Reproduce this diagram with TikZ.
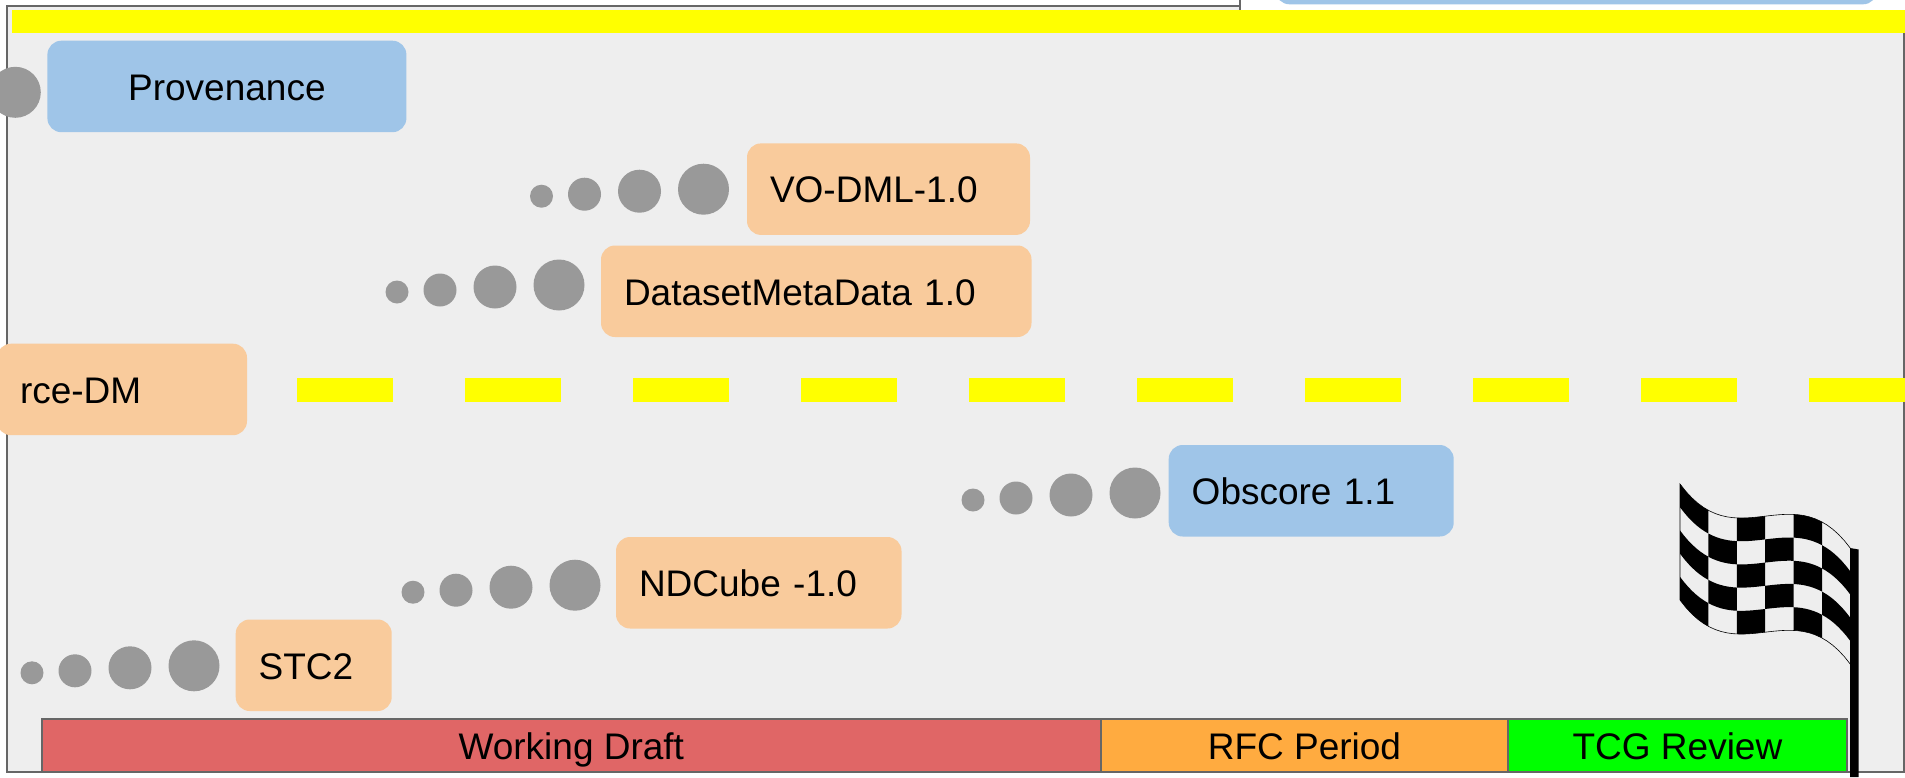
\documentclass[tikz,border=0pt]{standalone}
\usepackage{fontspec}
\setmainfont{Liberation Sans}
\usepackage{tikz}
\usetikzlibrary{positioning}
\definecolor{framegrey}{HTML}{666666}
\definecolor{lanegrey}{HTML}{EEEEEE}
\definecolor{dotgrey}{HTML}{999999}
\definecolor{doneblue}{HTML}{9FC5E8}
\definecolor{workpeach}{HTML}{F9CB9C}
\definecolor{draftred}{HTML}{E06666}
\definecolor{rfcorange}{HTML}{FFAB40}
\definecolor{roadyellow}{HTML}{FFFF00}
\definecolor{tcggreen}{HTML}{00FF00}
\tikzstyle{model} = [rectangle, rounded corners=14pt, anchor=north west, minimum height=91.5pt, inner xsep=23pt, inner ysep=0pt, outer sep=0pt, text height=27.5pt, text depth=0pt, align=left]
\tikzstyle{stage} = [rectangle, draw=framegrey, line width=2pt, minimum height=53pt, inner sep=0pt, outer sep=0pt, text height=27.5pt, text depth=0pt, align=center]
\tikzstyle{dot} = [circle, fill=dotgrey, inner sep=0pt, outer sep=0pt]
% four dots growing towards a model box, #2/#3 is the centre of the largest
\newcommand{\dottrail}[3]{
  \foreach \dx/\dy/\dsize/\dnum in {-162/7/23/1, -119/5/33/2, -64/2/43/3, 0/0/51/4}
    \node (#1dot\dnum) [dot, minimum size=\dsize pt] at (#2+\dx,#3+\dy) {};
}

\begin{document}
\begin{tikzpicture}[x=1pt, y=-1pt, font=\fontsize{37}{44}\selectfont,
    declare function={flagw(\u)=(96.5+4.68*(\u-3)*(\u-3)*(\u-3)-9.98*(\u-3))/3;}]
  \clip (0,0) rectangle (1905,777);

  % frame and what shows of the slide above
  \fill [white] (0,0) rectangle (1905,777);
  \draw [fill=lanegrey, draw=framegrey, line width=2pt] (7,6) rectangle (1904,771.7);
  \fill [white] (1240,0) rectangle (1905,9.7);
  \draw [framegrey, line width=2pt] (1240,0) -- (1240,9.7);
  \node (topbox) [model, fill=doneblue, minimum width=601.5pt] at (1275.5,-87.2) {};

  % road
  \fill [roadyellow] (12,9.7) rectangle (1905,33.3);
  \foreach \i in {0,...,9}
    \fill [roadyellow] (297+168*\i,377.8) rectangle (393+168*\i,401.5);

  % model boxes
  \node (provenance) [model, fill=doneblue, minimum width=359pt, text width=313pt, align=center] at (47.4,40.7) {Provenance};
  \node (vodml) [model, fill=workpeach, minimum width=283pt, text width=237pt] at (747,143.4) {VO-DML-1.0};
  \node (datasetmeta) [model, fill=workpeach, minimum width=430.5pt, text width=384.5pt] at (601,245.5) {DatasetMetaData 1.0};
  \node (sourcedm) [model, fill=workpeach, minimum width=250pt, text width=204pt] at (-3,343.7) {rce-DM};
  \node (obscore) [model, fill=doneblue, minimum width=285pt, text width=239pt] at (1168.7,445) {Obscore 1.1};
  \node (ndcube) [model, fill=workpeach, minimum width=285.5pt, text width=239.5pt] at (616,537) {NDCube -1.0};
  \node (stctwo) [model, fill=workpeach, minimum width=156pt, text width=110pt] at (235.7,619.5) {STC2};

  % progress dots
  \node (provdot) [dot, minimum size=51pt] at (15.3,92.3) {};
  \dottrail{vodml}{703.5}{189.2}
  \dottrail{datasetmeta}{559}{285}
  \dottrail{obscore}{1135}{493}
  \dottrail{ndcube}{575}{585.2}
  \dottrail{stctwo}{194}{665.8}

  % review stages
  \node (draft) [stage, fill=draftred, minimum width=1059.3pt] at (571.3,745.5) {Working Draft};
  \node (rfc) [stage, fill=rfcorange, minimum width=407pt, right=0pt of draft] {RFC Period};
  \node (tcg) [stage, fill=tcggreen, minimum width=339pt, right=0pt of rfc] {TCG Review};

  % finish flag
  \fill [black] (1850,548) -- (1858.7,549.5) -- (1858.7,777) -- (1850,777) -- cycle;
  \foreach \col in {0,...,5}
    \foreach \row in {0,...,4} {
      \pgfmathtruncatemacro{\odd}{mod(\col+\row,2)}
      \ifnum\odd=0
        \fill [black] plot [domain=\col:\col+1, samples=8] ({1680+28.4*\x},{484+flagw(\x)+23.2*\row})
          -- plot [domain=\col+1:\col, samples=8] ({1680+28.4*\x},{484+flagw(\x)+23.2*(\row+1)}) -- cycle;
      \fi
    }
  \draw [black, line width=0.6pt] plot [domain=0:6, samples=30] ({1680+28.4*\x},{484+flagw(\x)})
    -- plot [domain=6:0, samples=30] ({1680+28.4*\x},{484+flagw(\x)+116}) -- cycle;
\end{tikzpicture}
\end{document}
